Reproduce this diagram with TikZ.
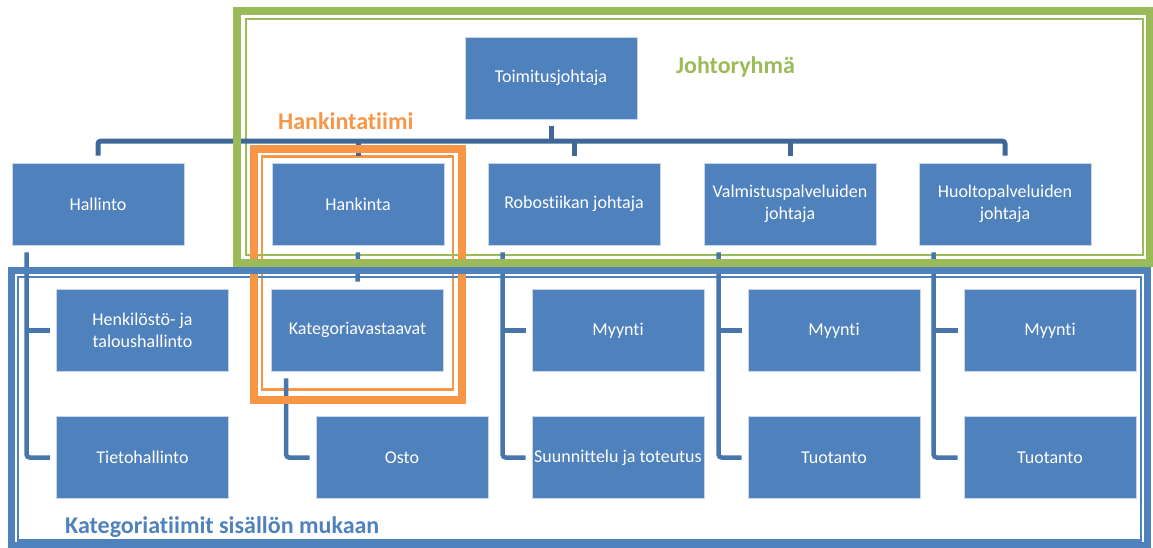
\documentclass[tikz,border=0pt]{standalone}
\usepackage{fontspec}
\setmainfont{Carlito}[Ligatures={NoCommon,NoContextual},RawFeature={-liga;-clig;-dlig}]
\definecolor{boxblue}{HTML}{4F81BD}
\definecolor{boxedge}{HTML}{C9D6EA}
\definecolor{treeline}{HTML}{3F6797}
\definecolor{childline}{HTML}{4775AC}
\definecolor{teamgreen}{HTML}{9BBB59}
\definecolor{teamorange}{HTML}{F79646}
\definecolor{teamblue}{HTML}{4F81BD}
\begin{document}
\begin{tikzpicture}[x=1pt,y=-1pt,
  unit/.style={rectangle,fill=boxblue,draw=boxedge,line width=0.8pt,
    minimum width=172pt,minimum height=82pt,inner sep=2pt,align=center,
    text=white,font=\fontsize{18}{21.5}\selectfont},
  tree/.style={draw=treeline,line width=5pt,rounded corners=3pt},
  child/.style={draw=childline,line width=4.5pt,rounded corners=3pt},
  thickframe/.style={line width=8pt},
  thinframe/.style={line width=2.5pt},
  teamlabel/.style={anchor=base west,inner sep=0pt,font=\fontsize{24}{28}\selectfont\bfseries}]
\useasboundingbox (0,0) rectangle (1153,547);

% units
\node[unit] (toim)  at (551,78)     {Toimitusjohtaja};
\node[unit] (hall)  at (98,204)     {Hallinto};
\node[unit] (hank)  at (358,204)    {Hankinta};
\node[unit] (robo)  at (574,204)    {Robostiikan johtaja};
\node[unit] (valm)  at (790,204)    {Valmistuspalveluiden\\johtaja};
\node[unit] (huol)  at (1005,204)   {Huoltopalveluiden\\johtaja};
\node[unit] (henk)  at (142.5,330.5){Henkilöstö- ja\\taloushallinto};
\node[unit] (kate)  at (357.5,330)  {Kategoriavastaavat};
\node[unit] (myy1)  at (618,330.5)  {Myynti};
\node[unit] (myy2)  at (834,330.5)  {Myynti};
\node[unit] (myy3)  at (1050,330.5) {Myynti};
\node[unit] (tieto) at (142.5,457.5){Tietohallinto};
\node[unit] (osto)  at (402,457.5)  {Osto};
\node[unit] (suun)  at (618,457.5)  {Suunnittelu ja toteutus};
\node[unit] (tuo1)  at (834,457.5)  {Tuotanto};
\node[unit] (tuo2)  at (1050,457.5) {Tuotanto};

% thin inner lines of the team frames
\draw[teamorange,thinframe] (262,156.5) rectangle (453,389.5);
\draw[teamblue,thinframe]   (18,277) rectangle (1141,540.5);
\draw[teamgreen,thinframe]  (246,19) rectangle (1143,255);

% reporting lines
\coordinate (bus) at (551,141);
\draw[tree] ([yshift=7pt]hall.north) |- (bus) -| ([yshift=7pt]huol.north);
\draw[tree,rounded corners=0pt] ([yshift=-7pt]toim.south) -- (bus);
\draw[tree,rounded corners=0pt] ([yshift=7pt]hank.north) -- (hank.north |- bus);
\draw[tree,rounded corners=0pt] ([yshift=7pt]robo.north) -- (robo.north |- bus);
\draw[tree,rounded corners=0pt] ([yshift=7pt]valm.north) -- (valm.north |- bus);

\draw[child] ([yshift=-7pt]hank.south) -- ([yshift=7pt]kate.north);

\draw[child] ([xshift=15pt,yshift=-7pt]hall.south west) |- ([xshift=-6pt]tieto.west);
\draw[child,rounded corners=0pt] ([xshift=15pt]hall.south west |- henk.west) -- ([xshift=-6pt]henk.west);

\draw[child] ([xshift=15pt,yshift=-7pt]kate.south west) |- ([xshift=-6pt]osto.west);

\draw[child] ([xshift=15pt,yshift=-7pt]robo.south west) |- ([xshift=-6pt]suun.west);
\draw[child,rounded corners=0pt] ([xshift=15pt]robo.south west |- myy1.west) -- ([xshift=-6pt]myy1.west);

\draw[child] ([xshift=15pt,yshift=-7pt]valm.south west) |- ([xshift=-6pt]tuo1.west);
\draw[child,rounded corners=0pt] ([xshift=15pt]valm.south west |- myy2.west) -- ([xshift=-6pt]myy2.west);

\draw[child] ([xshift=15pt,yshift=-7pt]huol.south west) |- ([xshift=-6pt]tuo2.west);
\draw[child,rounded corners=0pt] ([xshift=15pt]huol.south west |- myy3.west) -- ([xshift=-6pt]myy3.west);

% thick outer lines of the team frames
\draw[teamorange,thickframe] (254,149) rectangle (461.5,400);
\draw[teamblue,line width=7pt] (11,270.5) rectangle (1147.5,545);
\draw[teamgreen,thickframe] (237,11) rectangle (1150,263);

% team labels
\node[teamlabel,text=teamgreen]  (lgreen)  at (676,73)  {Johtoryhmä};
\node[teamlabel,text=teamorange] (lorange) at (278,129) {Hankintatiimi};
\node[teamlabel,text=teamblue]   (lblue)   at (65,533)  {Kategoriatiimit sisällön mukaan};
\end{tikzpicture}
\end{document}
